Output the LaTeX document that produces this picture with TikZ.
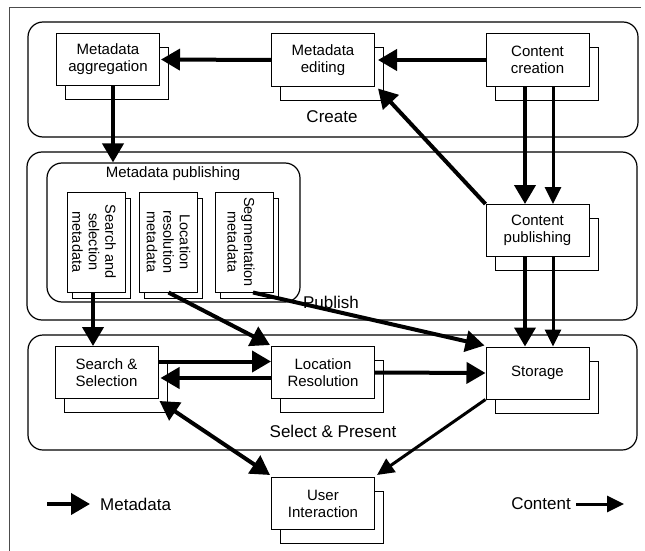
\documentclass[tikz,border=0pt]{standalone}
\usepackage{fontspec}
\setmainfont{Liberation Sans}
\usetikzlibrary{arrows.meta,shadows}
\begin{document}
\begin{tikzpicture}[x=1pt,y=-1pt,
  grp/.style={draw, rounded corners=15pt, line width=1.2pt, inner sep=0pt},
  grplbl/.style={font=\fontsize{17}{20}\selectfont, inner sep=0pt},
  box/.style={draw, fill=white, line width=1pt, minimum width=103pt, minimum height=52pt,
    align=center, inner sep=0pt, font=\fontsize{15}{17}\selectfont,
    general shadow={shadow xshift=9pt, shadow yshift=-14pt, fill=white, draw=black, line width=1pt}},
  vbox/.style={draw, fill=white, line width=1pt, minimum width=58pt, minimum height=100pt, inner sep=0pt,
    general shadow={shadow xshift=5pt, shadow yshift=-6pt, fill=white, draw=black, line width=1pt}},
  vtext/.style={rotate=-90, align=center, inner sep=0pt, font=\fontsize{14.5}{16.5}\selectfont},
  meta/.style={line width=4pt, -{Triangle[length=19pt,width=21pt]}},
  metaboth/.style={line width=4pt, {Triangle[length=19pt,width=21pt]}-{Triangle[length=19pt,width=21pt]}},
  cont/.style={line width=3pt, -{Triangle[length=17pt,width=16pt]}},
  legend/.style={font=\fontsize{17}{20}\selectfont, inner sep=0pt}
]
\useasboundingbox (0,0) rectangle (645,551);
% scan frame
\draw[line width=0.8pt, black!70] (9,551) -- (9,7) -- (641,7);

% containers
\node[grp, minimum width=610pt, minimum height=115pt] (create) at (333,79.5) {};
\node[grp, minimum width=610pt, minimum height=168pt] (publish) at (332,236) {};
\node[grp, minimum width=253pt, minimum height=139pt] (mpub) at (173.5,232.5) {};
\node[grp, minimum width=609pt, minimum height=115pt] (select) at (332.5,392.5) {};

\node[grplbl] (createlbl) at (332,117) {Create};
\node[grplbl] (publishlbl) at (331,302) {Publish};
\node[grplbl] (selectlbl) at (333,431) {Select \& Present};
\node[font=\fontsize{15}{18}\selectfont, inner sep=0pt] (mpublbl) at (173,174) {Metadata publishing};

% boxes
\node[box] (agg) at (108,59.5) {Metadata\\aggregation};
\node[box] (edit) at (323,60) {Metadata\\editing};
\node[box] (cc) at (537.5,60) {Content\\creation};
\node[box] (cpub) at (537.5,230.5) {Content\\publishing};
\node[box] (ss) at (106.5,372.5) {Search \&\\Selection};
\node[box] (lr) at (323,372.5) {Location\\Resolution};
\node[box] (st) at (537.5,373) {Storage};
\node[box] (ui) at (323,503.5) {User\\Interaction};

\node[vbox] (b1) at (96.5,242) {};
\node[vtext] (t1) at (94,242) {Search and\\selection\\metadata};
\node[vbox] (b2) at (168.5,242) {};
\node[vtext] (t2) at (168.5,242) {Location\\resolution\\metadata};
\node[vbox] (b3) at (244,242) {};
\node[vtext] (t3) at (241,242) {Segmentation\\metadata};

% connectors
\draw[meta] (edit.west) -- ([xshift=1pt]agg.east);
\draw[meta] (cc.west) -- ([xshift=3pt]edit.east);
\draw[meta] (cpub.north west) -- ([shift={(3,2)}]edit.south east);
\coordinate (a4) at ([xshift=5pt]agg.south);
\draw[meta] (a4) -- (a4 |- mpub.north);
\draw[meta] ([xshift=-12.5pt]cc.south) -- ([xshift=-12.5pt]cpub.north);
\draw[cont] ([xshift=15.5pt]cc.south) -- ([xshift=15.5pt]cpub.north);
\draw[meta] ([xshift=-12.5pt]cpub.south) -- ([xshift=-12.5pt]st.north);
\draw[cont] ([xshift=15.5pt]cpub.south) -- ([xshift=15.5pt]st.north);
\coordinate (a7) at ([xshift=-3.5pt]b1.south);
\draw[meta] (a7) -- (a7 |- ss.north);
\draw[meta] (b2.south) -- ([shift={(-1,-1)}]lr.north west);
\draw[meta] ([xshift=9pt]b3.south) -- ([shift={(-1,-1)}]st.north west);
\draw[meta] ([yshift=11pt]ss.east) -- ([yshift=11pt]lr.west);
\draw[meta] ([yshift=-5.5pt]lr.west) -- ([shift={(2,5.5)}]ss.east);
\draw[meta] (lr.east) -- (st.west);
\draw[metaboth] ([shift={(1,2)}]ss.south east) -- ([shift={(-1,-2)}]ui.north west);
\draw[cont] (st.south west) -- ([shift={(2,-2)}]ui.north east);

% legend
\coordinate (m1) at (47,504);
\coordinate (m2) at (90,504);
\draw[meta] (m1) -- (m2);
\node[legend, anchor=west] (mlbl) at (100,504) {Metadata};
\coordinate (c1) at (576,504);
\coordinate (c2) at (624,504);
\draw[cont] (c1) -- (c2);
\node[legend, anchor=east] (clbl) at (571,504) {Content};
\end{tikzpicture}
\end{document}
